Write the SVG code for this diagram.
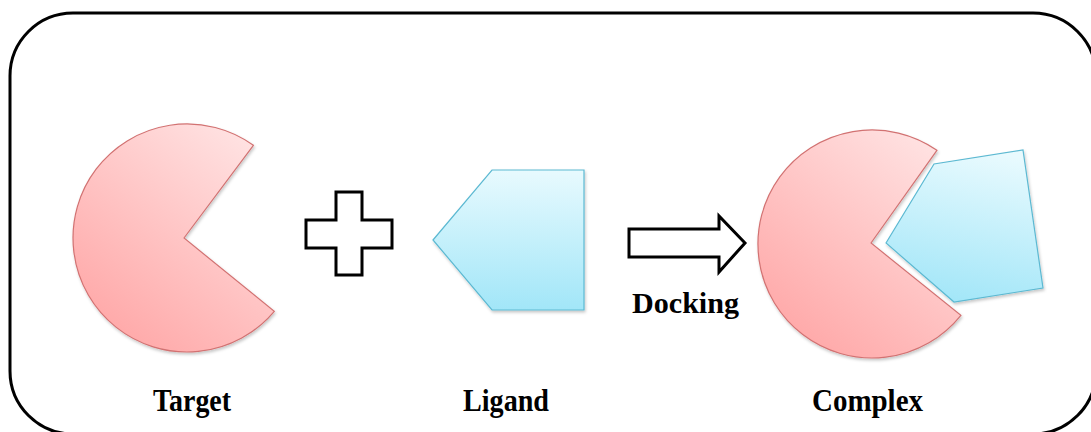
<svg xmlns="http://www.w3.org/2000/svg" width="1091" height="432" viewBox="0 0 1091 432">
  <style>
    .frame { fill: #ffffff; stroke: #000000; stroke-width: 3; }
    .target { fill: url(#pinkGrad); stroke: #d27272; stroke-width: 1.2; filter: url(#soft); }
    .ligand { stroke: #5cb9d2; stroke-width: 1.2; filter: url(#soft); }
    .outline { fill: #ffffff; stroke: #000000; stroke-width: 3; stroke-linejoin: miter; }
    .label { font-family: "Liberation Serif", "Times New Roman", serif; font-weight: bold; font-size: 32px; fill: #000000; }
    .step { font-size: 30px; }
  </style>
  <defs>
    <linearGradient id="pinkGrad" x1="0.85" y1="0" x2="0.15" y2="1">
      <stop offset="0" stop-color="#ffe4e4"/>
      <stop offset="1" stop-color="#ffa4a4"/>
    </linearGradient>
    <linearGradient id="cyanGrad" x1="0" y1="0" x2="0" y2="1">
      <stop offset="0" stop-color="#e8fafe"/>
      <stop offset="1" stop-color="#a2e6f8"/>
    </linearGradient>
    <linearGradient id="cyanGradTilt" x1="0.6" y1="0" x2="0.4" y2="1">
      <stop offset="0" stop-color="#e8fafe"/>
      <stop offset="1" stop-color="#a2e6f8"/>
    </linearGradient>
    <filter id="soft" x="-10%" y="-10%" width="120%" height="125%">
      <feDropShadow dx="1" dy="2" stdDeviation="1.8" flood-color="#000000" flood-opacity="0.22"/>
    </filter>
  </defs>

  <!-- outer rounded frame -->
  <rect class="frame" x="10" y="13" width="1086" height="421" rx="63" ry="63"/>

  <!-- target protein -->
  <g id="target">
    <path class="target" d="M 184 238 L 253.4 145.3 A 114 114 0 1 0 274.3 311.3 Z"/>
    <text class="label" x="153" y="411" textLength="78" lengthAdjust="spacingAndGlyphs">Target</text>
  </g>

  <!-- plus sign -->
  <g id="plus">
    <path class="outline" d="M 336 192 H 362 V 220 H 392 V 248 H 362 V 275 H 336 V 248 H 306 V 220 H 336 Z"/>
  </g>

  <!-- ligand -->
  <g id="ligand">
    <path class="ligand" fill="url(#cyanGrad)" d="M 433 240 L 492 170 L 584 170 L 584 310 L 492 310 Z"/>
    <text class="label" x="463" y="411" textLength="86" lengthAdjust="spacingAndGlyphs">Ligand</text>
  </g>

  <!-- docking step -->
  <g id="connectors">
    <path class="outline" d="M 629 229 H 719 V 216 L 745 243 L 719 272 V 257 H 629 Z"/>
    <text class="label step" x="632" y="313" textLength="107" lengthAdjust="spacingAndGlyphs">Docking</text>
  </g>

  <!-- bound complex -->
  <g id="complex">
    <path class="target" d="M 871 243 L 936.9 150.3 A 114 114 0 1 0 960.9 315.3 Z"/>
    <path class="ligand" fill="url(#cyanGradTilt)" d="M 886 243 L 934 164 L 1023 150 L 1043 288 L 954 302 Z"/>
    <text class="label" x="812" y="411" textLength="111" lengthAdjust="spacingAndGlyphs">Complex</text>
  </g>
</svg>
